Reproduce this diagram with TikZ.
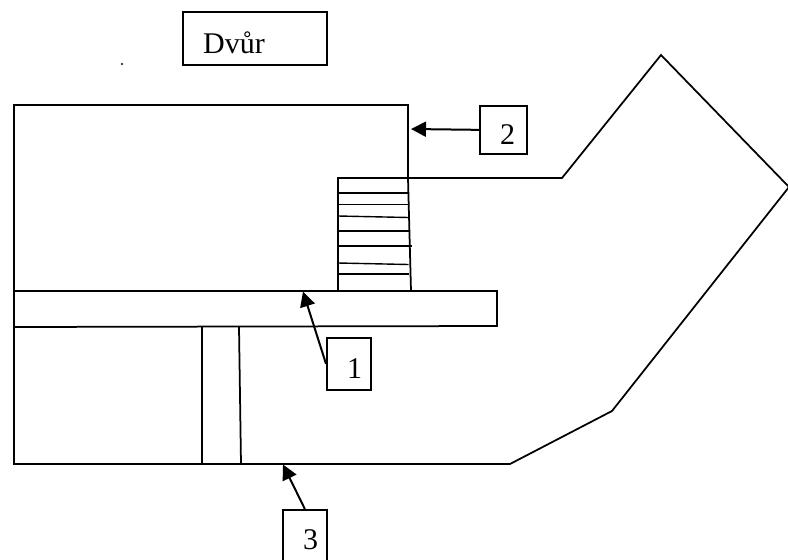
\documentclass[tikz,border=0pt]{standalone}
\usepackage{fontspec}
\setmainfont{Liberation Serif}
\usetikzlibrary{arrows.meta}
\tikzset{
  wall/.style={draw=black,line width=1.75pt,line join=miter},
  tread/.style={draw=black,line width=1.4pt},
  labelbox/.style={draw=black,line width=1.7pt,inner sep=0pt,anchor=north west},
  labeltext/.style={anchor=base west,inner sep=0pt,font=\fontsize{30}{32}\selectfont},
  pointer/.style={draw=black,line width=2pt,-{Triangle[length=15pt,width=15pt]}}
}
\begin{document}
\begin{tikzpicture}[x=1pt,y=-1pt]
\useasboundingbox (0,0) rectangle (788,560);
% outline
\draw[wall] (14,105) -- (408,105) -- (408,178) -- (562,178) -- (661,55) -- (789,187)
  -- (612,411) -- (510,464) -- (14,464) -- cycle;
% staircase
\draw[wall] (338,291) -- (338,178) -- (408,178) -- (411,291);
\draw[tread] (338,193) -- (408,193);
\draw[tread] (338,204.5) -- (408.5,204.5);
\draw[tread] (338,216) -- (408.5,217.5);
\draw[tread] (338,231) -- (409,231);
\draw[tread] (338,246) -- (412,246);
\draw[tread] (338,263) -- (408.5,264.5);
\draw[tread] (338,274) -- (408.5,274);
% bar and passage
\draw[wall] (14,291) -- (497,291) -- (497,326) -- (14,327);
\draw[wall] (202,327) -- (202,464);
\draw[wall] (239,327) -- (241,464);
% dot
\fill (122,64) circle (1.2pt);
% labels
\node[labelbox,minimum width=144pt,minimum height=53pt] (dvur) at (182,11) {};
\node[labeltext] (dvurtext) at (203,53) {Dvůr};
\node[labelbox,minimum width=47pt,minimum height=48pt] (boxtwo) at (479,105) {};
\node[labeltext] (two) at (500,144) {2};
\node[labelbox,minimum width=44pt,minimum height=52pt] (boxone) at (326,337) {};
\node[labeltext] (one) at (347,378) {1};
\node[labelbox,minimum width=44pt,minimum height=60pt] (boxthree) at (282,509) {};
\node[labeltext] (three) at (303,549) {3};
% pointers
\coordinate (ttwo) at (411,129);
\coordinate (tone) at (303,291.5);
\coordinate (tthree) at (283,464.5);
\draw[pointer] (boxtwo.west) -- (ttwo);
\draw[pointer] (boxone.west) -- (tone);
\draw[pointer] (boxthree.north) -- (tthree);
\end{tikzpicture}
\end{document}
